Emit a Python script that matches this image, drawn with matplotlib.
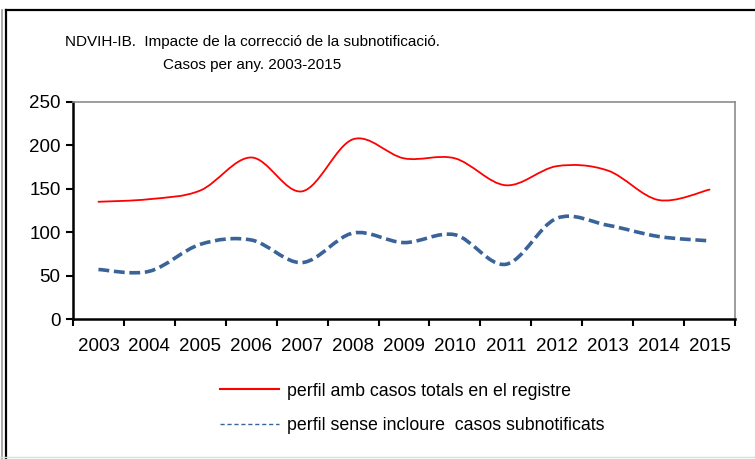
import matplotlib
matplotlib.use("Agg")
import matplotlib.pyplot as plt
from matplotlib.path import Path
from matplotlib.patches import PathPatch
from matplotlib.lines import Line2D

plt.rcParams['font.family'] = ['Liberation Sans', 'DejaVu Sans']

# dades llegides del gràfic
anys = ['2003', '2004', '2005', '2006', '2007', '2008', '2009',
        '2010', '2011', '2012', '2013', '2014', '2015']
casos_totals = [135, 138, 148, 186, 147, 207, 185, 185, 154, 176, 171, 137, 149]
casos_sense_sub = [57, 55, 86, 91, 65, 99, 88, 97, 63, 116, 108, 95, 90]

label_totals = 'perfil amb casos totals en el registre'
label_sense = 'perfil sense incloure  casos subnotificats'
titol = 'NDVIH-IB.  Impacte de la correcció de la subnotificació.\nCasos per any. 2003-2015'

BLUE = '#3A6399'


def smooth_path(xs, ys):
    """Corba suavitzada tipus Catmull-Rom (com les línies suaus d'Excel)."""
    pts = list(zip(xs, ys))
    n = len(pts)
    verts = [pts[0]]
    codes = [Path.MOVETO]
    for i in range(n - 1):
        p0 = pts[i - 1] if i > 0 else pts[i]
        p1 = pts[i]
        p2 = pts[i + 1]
        p3 = pts[i + 2] if i + 2 < n else pts[i + 1]
        c1 = (p1[0] + (p2[0] - p0[0]) / 6, p1[1] + (p2[1] - p0[1]) / 6)
        c2 = (p2[0] - (p3[0] - p1[0]) / 6, p2[1] - (p3[1] - p1[1]) / 6)
        verts += [c1, c2, p2]
        codes += [Path.CURVE4] * 3
    return Path(verts, codes)


fig = plt.figure(figsize=(7.55, 4.59), dpi=100)
ax = fig.add_axes([0.0967, 0.305, 0.8768, 0.473])

x = list(range(len(anys)))
ax.add_patch(PathPatch(smooth_path(x, casos_totals), facecolor='none',
                       edgecolor='red', lw=1.3, capstyle='round'))
ax.add_patch(PathPatch(smooth_path(x, casos_sense_sub), facecolor='none',
                       edgecolor=BLUE, lw=2.6, linestyle=(0, (3.0, 1.3))))

ax.set_xlim(-0.5, len(anys) - 0.5)
ax.set_ylim(0, 250)
ax.set_yticks(range(0, 251, 50))
ax.set_xticks(x)
ax.set_xticklabels(anys)
ax.set_xticks([i - 0.5 for i in range(len(anys) + 1)], minor=True)
ax.tick_params(axis='x', which='major', length=0, pad=14, labelsize=13.5)
ax.tick_params(axis='x', which='minor', length=5, width=1.5, direction='out')
ax.tick_params(axis='y', length=5, width=1.5, direction='out', labelsize=13.5, pad=4)

for s in ['left', 'bottom']:
    ax.spines[s].set_linewidth(1.8)
    ax.spines[s].set_color('black')
for s in ['top', 'right']:
    ax.spines[s].set_linewidth(1.2)
    ax.spines[s].set_color('#8c8c8c')

fig.text(0.334, 0.883, titol, ha='center', va='center', fontsize=11,
         linespacing=1.8)

handles = [Line2D([], [], color='red', lw=1.5),
           Line2D([], [], color=BLUE, lw=1.0, linestyle=(0, (3, 2)))]
fig.legend(handles, [label_totals, label_sense], loc='center left',
           bbox_to_anchor=(220 / 755, 0.11), frameon=False, fontsize=12.8,
           handlelength=3.3, handletextpad=0.45, labelspacing=1.0,
           borderpad=0, borderaxespad=0)

# marc de la figura
fig.add_artist(Line2D([6 / 755, 6 / 755], [0, 1 - 10 / 459], color='black', lw=1.6))
fig.add_artist(Line2D([6 / 755, 1], [1 - 10 / 459, 1 - 10 / 459], color='black', lw=1.6))
fig.add_artist(Line2D([1.5 / 755, 1.5 / 755], [0, 1 - 10 / 459], color='#999999', lw=1.2))
fig.add_artist(Line2D([0, 1], [2 / 459, 2 / 459], color='#dddddd', lw=1.0))

fig.savefig('out.png', dpi=100)
